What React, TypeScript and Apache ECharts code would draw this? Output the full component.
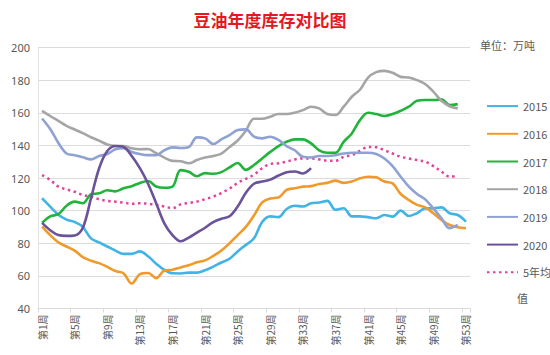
import React, { useEffect, useRef } from "react";
import * as echarts from "echarts";

const weeks: string[] = Array.from({ length: 53 }, (_, i) => `第${i + 1}周`);
const yTicks = { min: 40, max: 200, interval: 20 };

const s2015 = [107.6, 102.5, 97.5, 94.5, 93, 90, 83, 80.5, 78, 75.5, 73.5, 73.5, 75, 72, 67.5, 63.7, 61.6, 61.5, 62, 62, 63.5, 65.7, 68.2, 70.5, 75, 79, 83, 93, 96.5, 96, 101, 103, 102.5, 104.5, 105, 106, 100.5, 101.5, 96.5, 96.5, 96, 95.3, 97.3, 96.3, 100, 96.7, 98.4, 101.4, 101.4, 102, 98.4, 97.3, 93.3];
const s2016 = [90.2, 85, 80.5, 78, 75.5, 71.5, 69.3, 67.8, 65.5, 63, 61.5, 55.3, 61, 61.8, 58.6, 63.3, 63.8, 65.2, 66.5, 68.3, 69.5, 72.2, 75.5, 80, 85, 90, 97, 105, 107.5, 108, 112.7, 113.7, 114.7, 115, 116.3, 117, 118.4, 117, 117.8, 119.8, 120.8, 120.4, 117.8, 116.7, 110.2, 106.5, 103.5, 102, 98.4, 94.3, 91.2, 89.8, 89.2];
const s2017 = [92.5, 96.5, 97.8, 103, 105.5, 104.5, 110, 110.6, 112.5, 111.8, 113.7, 115, 117, 118.2, 114.8, 114, 114.7, 124.8, 123.8, 121.1, 123, 122.6, 123.6, 126.5, 129.2, 125, 128, 132, 136, 139.6, 142.2, 143.7, 143.7, 141.2, 137, 135.5, 135.5, 142.2, 147.3, 155.5, 160, 159.2, 158, 159.2, 161.2, 163.7, 167.3, 167.8, 167.8, 168.2, 164.7, 165.3];
const s2018 = [161.2, 158, 155, 152, 149.7, 147.5, 145, 142.9, 140.5, 139.6, 139.6, 138.2, 137.6, 137.8, 135.2, 132.5, 130.5, 130.3, 129, 131, 132.5, 133.5, 135, 139, 143, 149, 156.3, 156.3, 157.6, 159.2, 159.2, 160, 161.6, 163.7, 162.7, 159.2, 158.6, 163.7, 169.8, 174.1, 181.6, 184.9, 185.7, 184.5, 182, 181.6, 180, 177.6, 172.9, 167.3, 164, 162.7];
const s2019 = [156.5, 150, 141.5, 135, 134, 132.7, 131.4, 133.5, 134.7, 137.6, 138.2, 136, 134.7, 134, 134, 137, 138.8, 138.4, 139, 144.9, 144.3, 140.8, 143.7, 146.3, 149.4, 149.8, 145.3, 144.3, 145.3, 143.3, 139.6, 137, 133, 132.6, 133.5, 133.5, 134, 135, 135.5, 135.5, 135.5, 134.7, 132, 127.3, 120.8, 114.7, 110.2, 106.9, 101.4, 95.3, 89.2, 91.2];
const s2020 = [92.5, 88, 85, 84.5, 84.8, 89.5, 107.5, 126, 136.5, 139.6, 139, 133.5, 126, 116.5, 104.5, 92.2, 85, 81.2, 83.5, 86.5, 89.5, 93, 95, 96.5, 102.5, 111, 116.5, 117.8, 119, 121.5, 123.5, 124, 122.8, 126];
const s5yr = [121.8, 118.8, 114.7, 113, 111.6, 109.6, 108.6, 107, 106, 105.5, 104.9, 104.2, 104.5, 104.2, 103.5, 102.5, 101.5, 103.8, 104.7, 105.5, 107, 108.6, 110.8, 113.5, 117, 119.5, 122, 126, 128.6, 129, 130, 131.4, 132, 132, 131.4, 130.6, 130.6, 133, 134, 136.7, 139, 138.8, 137, 135, 133, 132, 131, 130, 127.3, 123.9, 120.8, 121.2];

const seriesDefs = [
  { name: "2015", data: s2015, color: "#41b4e5", dotted: false },
  { name: "2016", data: s2016, color: "#f09a2c", dotted: false },
  { name: "2017", data: s2017, color: "#22b33a", dotted: false },
  { name: "2018", data: s2018, color: "#a5a5a5", dotted: false },
  { name: "2019", data: s2019, color: "#8fa2d4", dotted: false },
  { name: "2020", data: s2020, color: "#6a5399", dotted: false },
  { name: "5年均值", data: s5yr, color: "#e0429c", dotted: true },
];

export default function App() {
  const ref = useRef<HTMLDivElement>(null);
  useEffect(() => {
    if (!ref.current) return;
    const chart = echarts.init(ref.current, undefined, { renderer: "svg" });
    const labelColor = "#595959";
    chart.setOption({
      animation: false,
      backgroundColor: "#ffffff",
      textStyle: { fontFamily: "'Microsoft YaHei', 'Noto Sans CJK SC', sans-serif" },
      grid: { left: 38, right: 80, top: 47.5, bottom: 46.5 },
      xAxis: {
        type: "category",
        data: weeks,
        boundaryGap: true,
        axisLine: { show: true, lineStyle: { color: "#d9d9d9", width: 1 } },
        axisTick: { show: true, interval: 3, length: 4, lineStyle: { color: "#d9d9d9" } },
        axisLabel: {
          interval: 3,
          rotate: 90,
          fontSize: 10,
          color: labelColor,
          margin: 6,
          fontFamily: "'Noto Sans CJK SC', sans-serif",
        },
        splitLine: { show: false },
      },
      yAxis: {
        type: "value",
        min: yTicks.min,
        max: yTicks.max,
        interval: yTicks.interval,
        axisLine: { show: true, lineStyle: { color: "#e3e3e3" } },
        axisTick: { show: false },
        axisLabel: { fontSize: 11, color: labelColor, margin: 8, fontFamily: "'Noto Sans', sans-serif" },
        splitLine: { show: true, lineStyle: { color: "#dcdcdc", width: 1 } },
      },
      legend: {
        orient: "vertical",
        left: 481,
        top: 95.5,
        itemWidth: 31,
        itemHeight: 14,
        itemGap: 16.5,
        itemStyle: { opacity: 0 },
        textStyle: { fontSize: 11, color: labelColor, fontFamily: "'Noto Sans CJK SC', sans-serif" },
        formatter: (name: string) => (name === "5年均值" ? "5年均" : name),
        data: seriesDefs.map((s) => s.name),
      },
      graphic: [
        {
          type: "text",
          x: 270,
          y: 19,
          style: {
            text: "豆油年度库存对比图",
            fill: "#e3191f",
            font: "bold 17px 'Noto Sans CJK SC', sans-serif",
            textAlign: "center",
            textVerticalAlign: "middle",
          },
        },
        {
          type: "text",
          x: 480,
          y: 45,
          style: {
            text: "单位：万吨",
            fill: labelColor,
            font: "11px 'Noto Sans CJK SC', sans-serif",
            textAlign: "left",
            textVerticalAlign: "middle",
          },
        },
        {
          type: "text",
          x: 517,
          y: 298,
          style: {
            text: "值",
            fill: labelColor,
            font: "11px 'Noto Sans CJK SC', sans-serif",
            textAlign: "left",
            textVerticalAlign: "middle",
          },
        },
      ],
      series: seriesDefs.map((s) => ({
        name: s.name,
        type: "line",
        data: s.data,
        smooth: 0.35,
        symbol: "none",
        showSymbol: false,
        color: s.color,
        lineStyle: s.dotted
          ? { color: s.color, width: 2.5, type: [2.5, 3.5] }
          : { color: s.color, width: 2.6 },
        z: s.dotted ? 1 : 2,
      })),
    });
    return () => chart.dispose();
  }, []);
  return (
    <div
      ref={ref}
      style={{ position: "fixed", left: 0, top: 0, width: 550, height: 355 }}
    />
  );
}
